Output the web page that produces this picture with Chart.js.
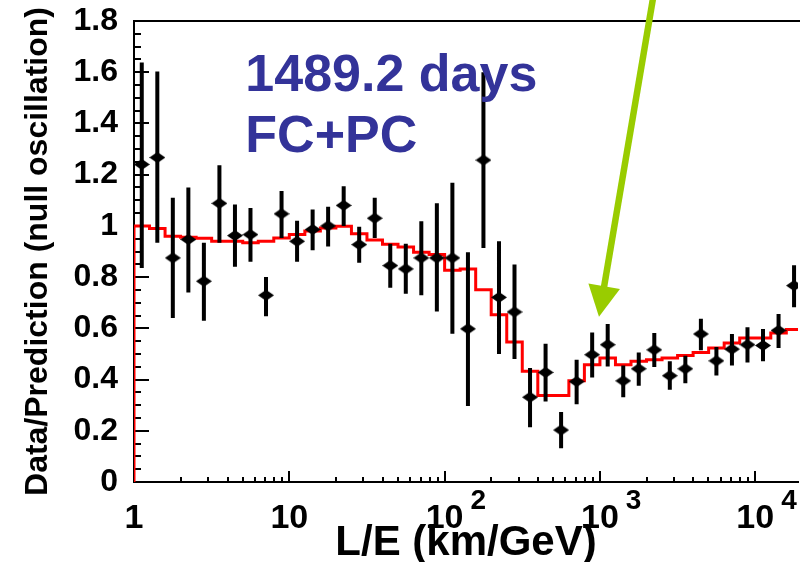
<!DOCTYPE html>
<html><head><meta charset="utf-8">
<script src="https://cdn.jsdelivr.net/npm/chart.js@4.4.1/dist/chart.umd.min.js"></script>
<style>html,body{margin:0;padding:0;background:#fff;overflow:hidden}canvas{display:block}</style>
</head><body>
<canvas id="c" width="805" height="562"></canvas>
<script>
// L/E bin centres (km/GeV), 0.1-decade bins
const binCenters = [1.122, 1.413, 1.778, 2.239, 2.818, 3.548, 4.467, 5.623, 7.079, 8.913,
  11.22, 14.13, 17.78, 22.39, 28.18, 35.48, 44.67, 56.23, 70.79, 89.13,
  112.2, 141.3, 177.8, 223.9, 281.8, 354.8, 446.7, 562.3, 707.9, 891.3,
  1122, 1413, 1778, 2239, 2818, 3548, 4467, 5623, 7079, 8913,
  11220, 14130, 17780];
// Data / Prediction (null oscillation)
const ratio = [1.24, 1.267, 0.875, 0.947, 0.784, 1.088, 0.962, 0.966, 0.729, 1.047,
  0.94, 0.986, 1.0, 1.08, 0.927, 1.03, 0.845, 0.832, 0.875, 0.875,
  0.875, 0.598, 1.257, 0.721, 0.664, 0.331, 0.428, 0.203, 0.392, 0.497,
  0.536, 0.395, 0.442, 0.516, 0.415, 0.442, 0.578, 0.473, 0.519, 0.536,
  0.533, 0.592, 0.767];
const errLow = [0.836, 0.934, 0.64, 0.74, 0.63, 0.934, 0.84, 0.86, 0.647, 0.953,
  0.86, 0.905, 0.92, 1.0, 0.856, 0.953, 0.758, 0.735, 0.729, 0.666,
  0.579, 0.297, 0.914, 0.50, 0.48, 0.214, 0.314, 0.132, 0.304, 0.408,
  0.451, 0.331, 0.376, 0.449, 0.36, 0.386, 0.514, 0.416, 0.455, 0.467,
  0.471, 0.523, 0.682];
const errHigh = [1.638, 1.603, 1.11, 1.15, 0.934, 1.237, 1.084, 1.07, 0.80, 1.136,
  1.02, 1.064, 1.075, 1.155, 0.997, 1.11, 0.93, 0.93, 1.018, 1.088,
  1.168, 0.897, 1.60, 0.94, 0.849, 0.445, 0.54, 0.273, 0.477, 0.584,
  0.617, 0.455, 0.506, 0.582, 0.471, 0.493, 0.637, 0.527, 0.578, 0.604,
  0.597, 0.656, 0.846];
// Oscillation best-fit expectation (histogram)
const histEdges = [1, 1.259, 1.585, 1.995, 2.512, 3.162, 3.981, 5.012, 6.310, 7.943,
  10, 12.59, 15.85, 19.95, 25.12, 31.62, 39.81, 50.12, 63.10, 79.43,
  100, 125.9, 158.5, 199.5, 251.2, 316.2, 398.1, 501.2, 631.0, 794.3,
  1000, 1259, 1585, 1995, 2512, 3162, 3981, 5012, 6310, 7943,
  10000, 12590, 15850, 19950];
const histValues = [1.0, 0.99, 0.96, 0.956, 0.952, 0.94, 0.94, 0.934, 0.94, 0.953,
  0.966, 0.98, 0.992, 0.999, 0.969, 0.945, 0.928, 0.918, 0.897, 0.888,
  0.827, 0.832, 0.751, 0.653, 0.547, 0.432, 0.338, 0.338, 0.395, 0.458,
  0.484, 0.458, 0.471, 0.477, 0.484, 0.494, 0.506, 0.523, 0.543, 0.562,
  0.562, 0.582, 0.595];
// axis labels
const xTickValues = [1, 10, 100, 1000, 10000];
const xTickBases = ['1', '10', '10', '10', '10'];
const xTickExponents = ['', '', '2', '3', '4'];
const xMinorMultipliers = [2, 3, 4, 5, 6, 7, 8, 9];
const xTitle = 'L/E (km/GeV)';
const yTitle = 'Data/Prediction (null oscillation)';
const annotationLines = ['1489.2 days', 'FC+PC'];
const annotationAnchor = {x: 5.21, y: [1.528, 1.29]};
const arrowFrom = {x: 2213, y: 1.9};
const arrowTo = {x: 986, y: 0.645};

const FONT = '"Liberation Sans", Arial, sans-serif';

// diamond marker
const marker = document.createElement('canvas');
marker.width = 16; marker.height = 11;
(function () {
  const m = marker.getContext('2d');
  m.fillStyle = '#000';
  m.beginPath();
  m.moveTo(0, 5.5); m.lineTo(8, 0); m.lineTo(16, 5.5); m.lineTo(8, 11); m.closePath();
  m.fill();
})();

const pointData = binCenters.map((x, i) => ({x, y: ratio[i]}));
const errData = [];
binCenters.forEach((x, i) => {
  errData.push({x, y: errLow[i]}, {x, y: errHigh[i]}, {x, y: null});
});
const histData = [{x: histEdges[0], y: 0}];
histValues.forEach((v, i) => histData.push({x: histEdges[i], y: v}));
histData.push({x: histEdges[histEdges.length - 1], y: histValues[histValues.length - 1]});

const decor = {
  id: 'decor',
  beforeDatasetsDraw(chart) {
    const {ctx, chartArea: a, scales: {x, y}} = chart;
    ctx.save();
    ctx.strokeStyle = '#000';
    ctx.lineWidth = 2;
    ctx.beginPath();
    // top frame
    ctx.moveTo(a.left, a.top); ctx.lineTo(a.right + 2, a.top);
    // y ticks (inward)
    for (let k = 0; k <= 36; k++) {
      const v = k * 0.05;
      const py = Math.round(y.getPixelForValue(v)) ;
      const len = (k % 4 === 0) ? 15 : 7;
      ctx.moveTo(a.left, py); ctx.lineTo(a.left + len, py);
    }
    // x ticks (inward)
    xTickValues.forEach(dec => {
      const px = Math.round(x.getPixelForValue(dec));
      if (dec > 1 && px <= a.right) { ctx.moveTo(px, a.bottom); ctx.lineTo(px, a.bottom - 11); }
      xMinorMultipliers.forEach(m => {
        const v = dec * m;
        if (v > x.max) return;
        const p = Math.round(x.getPixelForValue(v));
        ctx.moveTo(p, a.bottom); ctx.lineTo(p, a.bottom - 5);
      });
    });
    ctx.stroke();
    ctx.restore();
  },
  afterDatasetsDraw(chart) {
    const {ctx, chartArea: a, scales: {x, y}} = chart;
    ctx.save();
    // x tick labels with exponents
    ctx.fillStyle = '#000';
    ctx.textBaseline = 'alphabetic';
    xTickValues.forEach((v, i) => {
      const px = x.getPixelForValue(v);
      ctx.font = 'bold 34px ' + FONT;
      ctx.textAlign = 'center';
      ctx.fillText(xTickBases[i], px, a.bottom + 46);
      if (xTickExponents[i]) {
        const w = ctx.measureText(xTickBases[i]).width;
        ctx.font = 'bold 28px ' + FONT;
        ctx.textAlign = 'left';
        ctx.fillText(xTickExponents[i], px + w / 2 + 7, a.bottom + 27);
      }
    });
    // annotation
    ctx.fillStyle = '#333399';
    ctx.font = 'bold 52px ' + FONT;
    ctx.textAlign = 'left';
    annotationLines.forEach((t, i) => {
      ctx.fillText(t, x.getPixelForValue(annotationAnchor.x), y.getPixelForValue(annotationAnchor.y[i]));
    });
    // arrow
    const x0 = x.getPixelForValue(arrowFrom.x), y0 = y.getPixelForValue(arrowFrom.y);
    const x1 = x.getPixelForValue(arrowTo.x), y1 = y.getPixelForValue(arrowTo.y);
    const dx = x1 - x0, dy = y1 - y0, L = Math.hypot(dx, dy);
    const ux = dx / L, uy = dy / L;
    const head = 31, half = 16;
    const bx = x1 - ux * head, by = y1 - uy * head;
    ctx.strokeStyle = '#99cc00';
    ctx.fillStyle = '#99cc00';
    ctx.lineWidth = 6.5;
    ctx.beginPath(); ctx.moveTo(x0, y0); ctx.lineTo(bx + ux * 2, by + uy * 2); ctx.stroke();
    ctx.beginPath();
    ctx.moveTo(x1, y1);
    ctx.lineTo(bx - uy * half, by + ux * half);
    ctx.lineTo(bx + uy * half, by - ux * half);
    ctx.closePath(); ctx.fill();
    ctx.restore();
  }
};

new Chart(document.getElementById('c'), {
  type: 'scatter',
  data: {
    datasets: [
      {label: 'data', data: pointData, pointStyle: marker, pointRadius: 6, showLine: false},
      {label: 'err', data: errData, showLine: true, spanGaps: false, borderColor: '#000',
       borderWidth: 4, borderCapStyle: 'butt', pointRadius: 0},
      {label: 'prediction', data: histData, showLine: true, stepped: 'before', borderColor: '#ff0000',
       borderWidth: 3, pointRadius: 0, fill: false}
    ]
  },
  options: {
    responsive: false,
    animation: false,
    events: [],
    layout: {padding: {top: 21, left: 0, right: 0, bottom: 0}},
    plugins: {legend: {display: false}, tooltip: {enabled: false}},
    scales: {
      x: {
        type: 'logarithmic', min: 1, max: 18850,
        grid: {display: false, drawTicks: false},
        border: {display: true, color: '#000', width: 2},
        ticks: {display: false},
        title: {display: true, text: xTitle, color: '#000',
                font: {family: FONT, size: 42, weight: 'bold', lineHeight: 0.9},
                padding: {top: 0, bottom: 0}},
        afterFit(s) { s.height = 80; }
      },
      y: {
        min: 0, max: 1.8,
        grid: {display: false, drawTicks: false},
        border: {display: true, color: '#000', width: 2},
        ticks: {stepSize: 0.2, color: '#000', padding: 16,
                callback: v => String(Math.round(v * 10) / 10),
                font: {family: FONT, size: 32, weight: 'bold', lineHeight: 0.1}},
        title: {display: true, text: yTitle, color: '#000',
                font: {family: FONT, size: 32, weight: 'bold', lineHeight: 1},
                padding: {top: 22, bottom: 0}},
        afterFit(s) { s.width = 134; }
      }
    }
  },
  plugins: [decor]
});
</script>
</body></html>
